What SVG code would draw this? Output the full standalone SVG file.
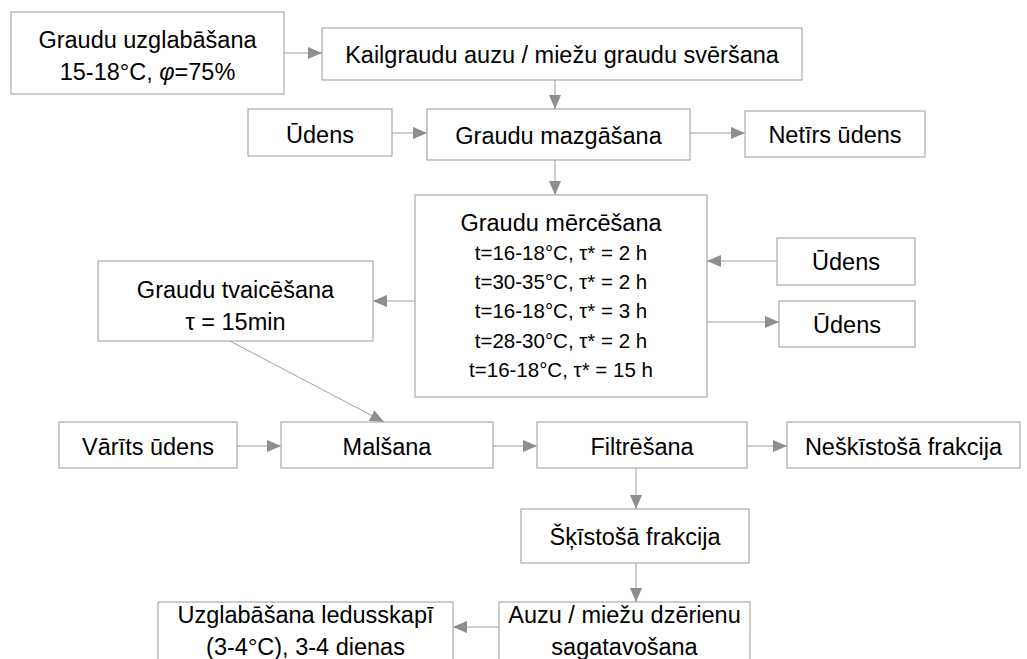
<svg xmlns="http://www.w3.org/2000/svg" width="1027" height="659" viewBox="0 0 1027 659">
<defs>
<style>
.box{fill:#fff;stroke:#9a9a9a;stroke-width:1}
.t{font-family:"Liberation Sans",Arial,sans-serif;font-size:23.5px;fill:#000;text-anchor:middle}
.s{font-size:20.5px}
.c{stroke:#a0a0a0;stroke-width:1;fill:none;marker-end:url(#ah)}
</style>
<marker id="ah" markerUnits="userSpaceOnUse" markerWidth="16" markerHeight="14" refX="14" refY="6" orient="auto">
<path d="M0,0 L14,6 L0,12 Z" fill="#8e8e8e"/>
</marker>
</defs>
<rect width="1027" height="659" fill="#fff"/>
<g id="connectors">
<line class="c" x1="284" y1="53" x2="322" y2="53"/>
<line class="c" x1="555" y1="80" x2="555" y2="109"/>
<line class="c" x1="392" y1="133" x2="427" y2="133"/>
<line class="c" x1="690" y1="133" x2="745" y2="133"/>
<line class="c" x1="555" y1="160" x2="555" y2="195"/>
<line class="c" x1="777" y1="261" x2="707" y2="261"/>
<line class="c" x1="707" y1="322" x2="779" y2="322"/>
<line class="c" x1="415" y1="301" x2="373" y2="301"/>
<line class="c" x1="230" y1="341" x2="384" y2="422"/>
<line class="c" x1="237" y1="446" x2="281" y2="446"/>
<line class="c" x1="493" y1="446" x2="537" y2="446"/>
<line class="c" x1="747" y1="446" x2="787" y2="446"/>
<line class="c" x1="636" y1="468" x2="636" y2="509"/>
<line class="c" x1="636" y1="563" x2="636" y2="602"/>
<line class="c" x1="499" y1="627" x2="453" y2="627"/>
</g>
<g id="n1"><rect class="box" x="11" y="12" width="273" height="82"/><text class="t" x="147.5" y="48">Graudu uzglabāšana</text><text class="t" x="147.5" y="80">15-18°C, <tspan font-style="italic">φ</tspan>=75%</text></g>
<g id="n2"><rect class="box" x="322" y="28" width="480" height="52"/><text class="t" x="562" y="63">Kailgraudu auzu / miežu graudu svēršana</text></g>
<g id="n3"><rect class="box" x="248" y="109" width="144" height="47"/><text class="t" x="320" y="143">Ūdens</text></g>
<g id="n4"><rect class="box" x="427" y="109" width="263" height="51"/><text class="t" x="558.5" y="144">Graudu mazgāšana</text></g>
<g id="n5"><rect class="box" x="745" y="111" width="180" height="46"/><text class="t" x="835" y="143">Netīrs ūdens</text></g>
<g id="n6"><rect class="box" x="415" y="195" width="292" height="202"/>
<text class="t" x="561" y="231">Graudu mērcēšana</text>
<text class="t s" x="561" y="260">t=16-18°C, τ* = 2 h</text>
<text class="t s" x="561" y="289">t=30-35°C, τ* = 2 h</text>
<text class="t s" x="561" y="318">t=16-18°C, τ* = 3 h</text>
<text class="t s" x="561" y="348">t=28-30°C, τ* = 2 h</text>
<text class="t s" x="561" y="377">t=16-18°C, τ* = 15 h</text></g>
<g id="n7"><rect class="box" x="777" y="238" width="138" height="47"/><text class="t" x="846" y="270">Ūdens</text></g>
<g id="n8"><rect class="box" x="779" y="301" width="136" height="46"/><text class="t" x="847" y="333">Ūdens</text></g>
<g id="n9"><rect class="box" x="98" y="261" width="275" height="80"/><text class="t" x="235.5" y="298">Graudu tvaicēšana</text><text class="t" x="235.5" y="330">τ = 15min</text></g>
<g id="n10"><rect class="box" x="59" y="422" width="178" height="46"/><text class="t" x="148" y="455">Vārīts ūdens</text></g>
<g id="n11"><rect class="box" x="281" y="422" width="212" height="46"/><text class="t" x="387" y="455">Malšana</text></g>
<g id="n12"><rect class="box" x="537" y="422" width="210" height="46"/><text class="t" x="642" y="455">Filtrēšana</text></g>
<g id="n13"><rect class="box" x="787" y="422" width="233" height="46"/><text class="t" x="903.5" y="455">Neškīstošā frakcija</text></g>
<g id="n14"><rect class="box" x="521" y="509" width="228" height="54"/><text class="t" x="635" y="545">Šķīstošā frakcija</text></g>
<g id="n15"><rect class="box" x="499" y="602" width="251" height="80"/><text class="t" x="624.5" y="623">Auzu / miežu dzērienu</text><text class="t" x="624.5" y="655">sagatavošana</text></g>
<g id="n16"><rect class="box" x="158" y="602" width="295" height="80"/><text class="t" x="305.5" y="623">Uzglabāšana ledusskapī</text><text class="t" x="305.5" y="655">(3-4°C), 3-4 dienas</text></g>
</svg>
